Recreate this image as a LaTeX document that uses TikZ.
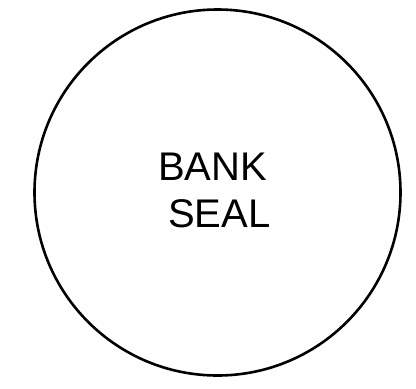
\documentclass[tikz,border=0pt]{standalone}
\usepackage{fontspec}
\setmainfont{Liberation Sans}
\begin{document}
\begin{tikzpicture}[x=1pt,y=-1pt,
  seal/.style={draw=black,line width=2.6pt,circle,minimum size=366pt,inner sep=0pt},
  lbl/.style={anchor=base west,inner sep=0pt,font=\fontsize{40}{40}\selectfont}]
\useasboundingbox (0,0) rectangle (416,389);
\node[seal] (c) at (217.5,192.5) {};
\node[lbl] (bank) at (158,180) {BANK};
\node[lbl] (seal) at (168,227) {SEAL};
\end{tikzpicture}
\end{document}
